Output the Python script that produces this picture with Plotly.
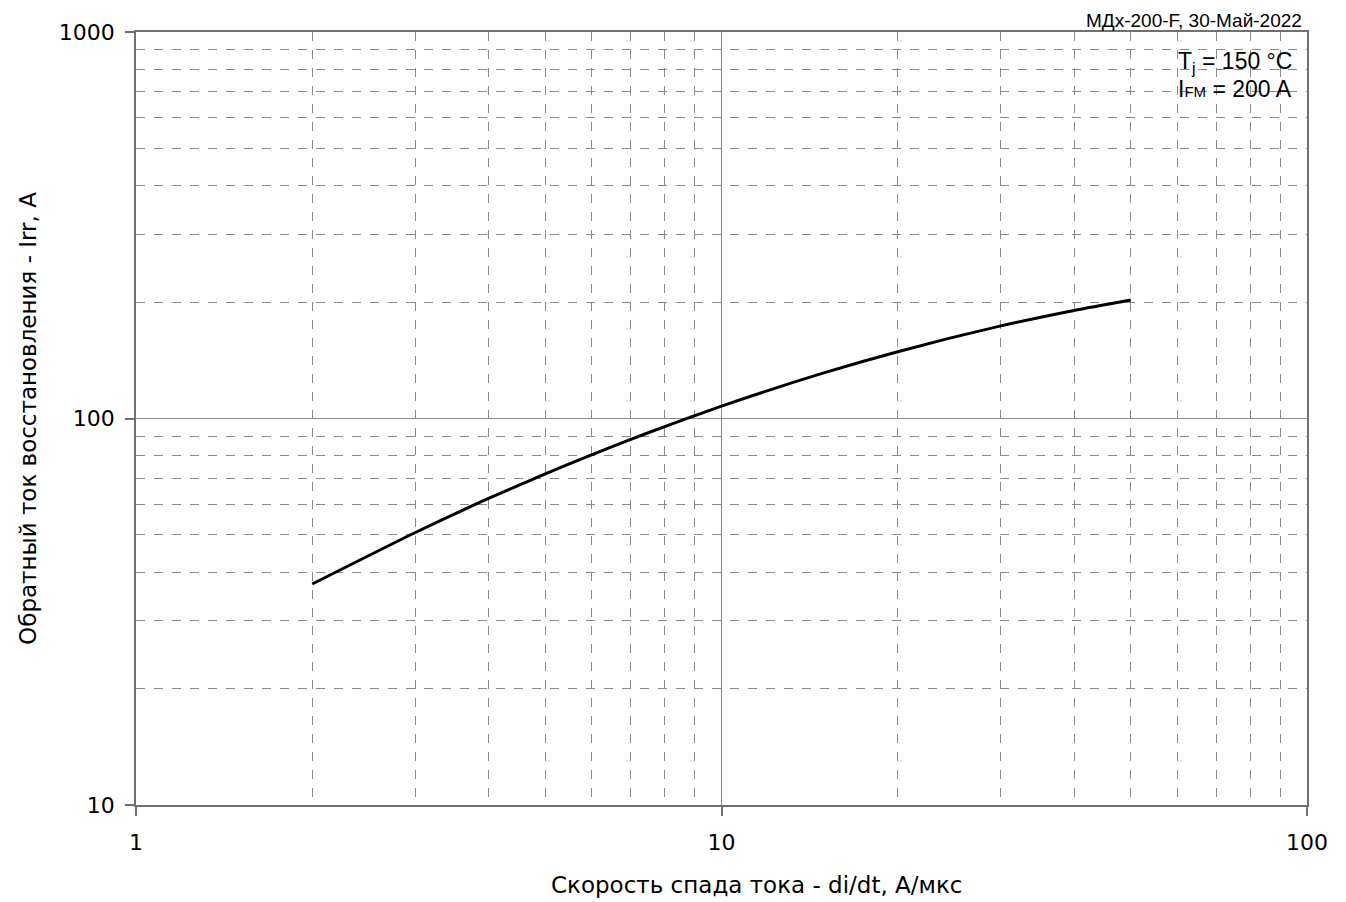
import plotly.graph_objects as go

didt = [2, 3, 4, 5, 6, 7, 8, 9, 10, 15, 20, 30, 40, 50]
irr = [37.3, 50.7, 62.1, 71.9, 80.5, 88.3, 95.3, 101.7, 107.7, 131.4, 148.9, 173.6, 190.4, 202.6]

x_ticks = [1, 10, 100]
y_ticks = [10, 100, 1000]
x_minor = [2, 3, 4, 5, 6, 7, 8, 9, 20, 30, 40, 50, 60, 70, 80, 90]
y_minor = [20, 30, 40, 50, 60, 70, 80, 90, 200, 300, 400, 500, 600, 700, 800, 900]

fig = go.Figure()
fig.add_trace(go.Scatter(x=didt, y=irr, mode="lines",
                         line=dict(color="black", width=3, shape="spline", smoothing=0.6),
                         showlegend=False))

grid_col = "#8a8a8a"
axis_common = dict(
    type="log", showline=True, linecolor="#707070", linewidth=1.5, mirror=True,
    showgrid=True, gridcolor=grid_col, gridwidth=1,
    ticks="outside", ticklen=9, tickcolor="#707070", tickwidth=1.5,
    tickfont=dict(family="DejaVu Sans", size=22, color="black"),
    zeroline=False,
)
fig.update_xaxes(**axis_common, range=[0, 2], tickmode="array", tickvals=x_ticks,
                 ticktext=[str(v) for v in x_ticks], ticklabelstandoff=8,
                 minor=dict(tickmode="array", tickvals=x_minor, showgrid=True, gridcolor=grid_col,
                            griddash="dash", gridwidth=1, ticks=""))
fig.update_yaxes(**axis_common, range=[1, 3], tickmode="array", tickvals=y_ticks,
                 ticktext=[str(v) for v in y_ticks], ticklabelstandoff=6,
                 minor=dict(tickmode="array", tickvals=y_minor, showgrid=True, gridcolor=grid_col,
                            griddash="dash", gridwidth=1, ticks=""),
                 title=dict(text="Обратный ток восстановления - Irr, A",
                            font=dict(family="DejaVu Sans", size=23, color="black"), standoff=16))

fig.update_layout(
    width=1346, height=902,
    margin=dict(l=128, r=47, t=24, b=105),
    plot_bgcolor="white", paper_bgcolor="white",
)

fig.add_annotation(text="Скорость спада тока - di/dt, А/мкс", xref="paper", yref="paper",
                   x=0.530, y=-0.1035, xanchor="center", yanchor="middle", showarrow=False,
                   font=dict(family="DejaVu Sans", size=23, color="black"))
fig.add_annotation(text="МДх-200-F, 30-Май-2022", xref="paper", yref="paper",
                   x=0.9975, y=1.0, xanchor="right", yanchor="bottom", yshift=-1, showarrow=False,
                   font=dict(family="Liberation Sans, Arial", size=19, color="black"))
fig.add_annotation(text="T<sub>j</sub> = 150 °C", xref="paper", yref="paper",
                   x=0.9885, y=0.961, xanchor="right", yanchor="middle", showarrow=False,
                   font=dict(family="Liberation Sans, Arial", size=23, color="black"))
fig.add_annotation(text="I<span style='font-size:15px'>FM</span> = 200 A", xref="paper", yref="paper",
                   x=0.9885, y=0.926, xanchor="right", yanchor="middle", showarrow=False,
                   font=dict(family="Liberation Sans, Arial", size=23, color="black"))

fig.write_html("out.html")
